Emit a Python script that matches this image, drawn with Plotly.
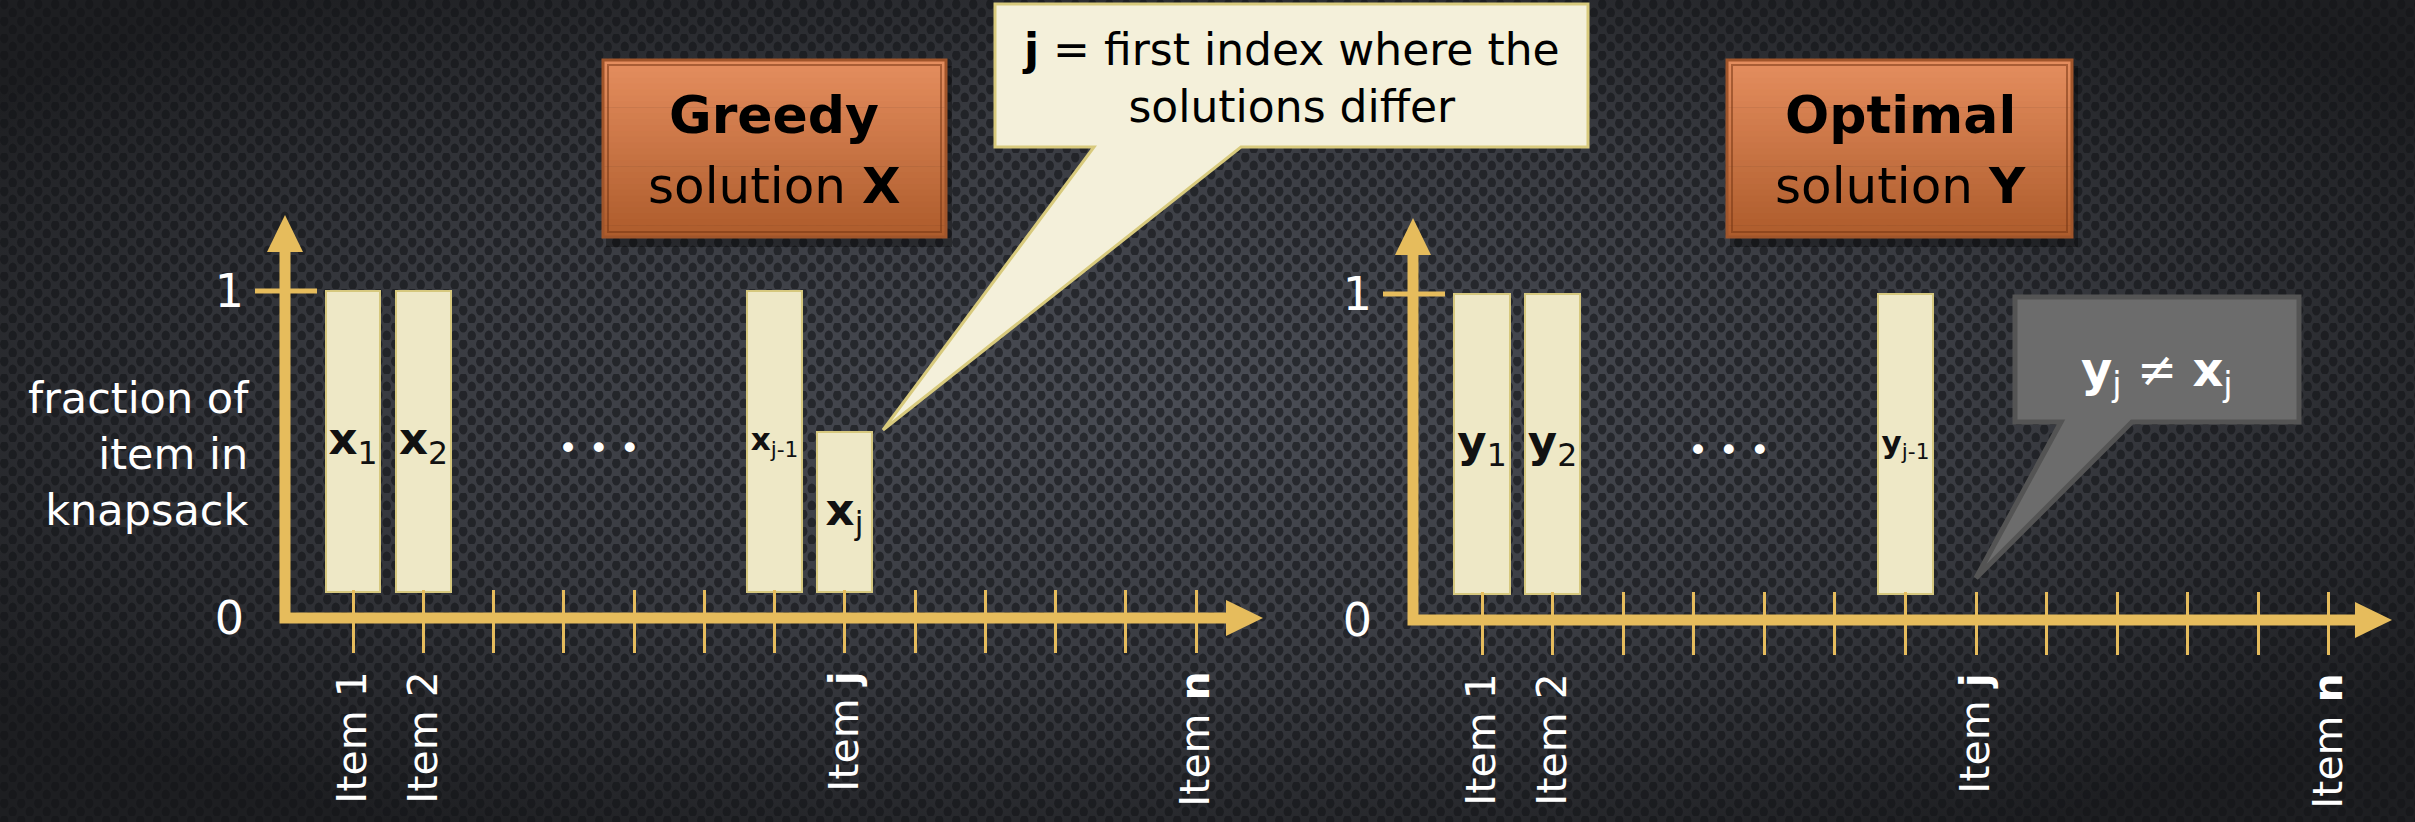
import base64
import plotly.graph_objects as go

# ---------------- data ----------------
ITEM_POSITIONS = list(range(1, 14))
LABELLED_ITEMS = [1, 2, 8, 13]
ITEM_TICK_LABELS = ["Item 1", "Item 2", "Item <b>j</b>", "Item <b>n</b>"]
Y_TICK_VALUES = [0, 1]
Y_TICK_LABELS = ["0", "1"]

GREEDY_ITEMS = [1, 2, 7, 8]
GREEDY_VALUES = [1.0, 1.0, 1.0, 0.57]
GREEDY_LABELS = ["<b>x</b><sub>1</sub>", "<b>x</b><sub>2</sub>",
                 "<b>x</b><sub>j-1</sub>", "<b>x</b><sub>j</sub>"]

OPTIMAL_ITEMS = [1, 2, 7]
OPTIMAL_VALUES = [1.0, 1.0, 1.0]
OPTIMAL_LABELS = ["<b>y</b><sub>1</sub>", "<b>y</b><sub>2</sub>",
                  "<b>y</b><sub>j-1</sub>"]

# ---------------- geometry / style ----------------
W, H = 2415, 822
FONT = "DejaVu Sans"
GOLD = "#E6BC5C"
BAR_FILL = "#EEE8C6"
BAR_LINE = "#D6C87E"
BAR_GAP = 0.08
BAR_WIDTH = 0.78

PANELS = {
    "left": dict(ax=285, item1=353, dx=70.25, base=618, one=291, top=215, tip=1263),
    "right": dict(ax=1413, item1=1482, dx=70.58, base=620, one=294, top=218, tip=2392),
}
AXW = 11
HEAD = 37
HALF = 18


def PX(x):
    return x / W


def PY(y):
    return 1 - y / H


svg = f"""<svg xmlns='http://www.w3.org/2000/svg' width='{W}' height='{H}'>
<defs>
<radialGradient id='g' cx='50%' cy='48%' r='62%'>
<stop offset='0' stop-color='#4a4d55'/><stop offset='0.55' stop-color='#393b41'/><stop offset='1' stop-color='#1d1e21'/>
</radialGradient>
<pattern id='p' width='17' height='17' patternUnits='userSpaceOnUse'>
<ellipse cx='4.25' cy='4.25' rx='4.2' ry='5.2' fill='#131417' opacity='0.6'/>
<ellipse cx='12.75' cy='12.75' rx='4.2' ry='5.2' fill='#131417' opacity='0.6'/>
</pattern>
</defs>
<rect width='100%' height='100%' fill='url(#g)'/>
<rect width='100%' height='100%' fill='url(#p)'/>
</svg>"""
bg_src = "data:image/svg+xml;base64," + base64.b64encode(svg.encode()).decode()

fig = go.Figure()

AXES = {"left": dict(x="x", xin="x2", y="y"),
        "right": dict(x="x3", xin="x4", y="y2")}
series = {"left": (GREEDY_ITEMS, GREEDY_VALUES, GREEDY_LABELS),
          "right": (OPTIMAL_ITEMS, OPTIMAL_VALUES, OPTIMAL_LABELS)}


def lname(ref):
    return ("xaxis" if ref[0] == "x" else "yaxis") + ref[1:]


layout_axes = {}
shapes = []
annotations = []

for side, g in PANELS.items():
    A = AXES[side]
    unit = g["base"] - g["one"]
    x_lo = 1 - (g["item1"] - g["ax"]) / g["dx"]
    x_hi = 1 + (g["tip"] - g["item1"]) / g["dx"]
    y_hi = (g["base"] - g["top"]) / unit
    xdom = [PX(g["ax"]), PX(g["tip"])]
    ydom = [PY(g["base"]), PY(g["top"])]

    items, vals, labels = series[side]
    sizes = [31 if "j-1" in t else 45 for t in labels]
    fig.add_trace(go.Bar(
        x=items, y=[v - BAR_GAP for v in vals], base=BAR_GAP,
        width=BAR_WIDTH, xaxis=A["x"], yaxis=A["y"],
        marker=dict(color=BAR_FILL, line=dict(color=BAR_LINE, width=2)),
        text=labels, textposition="inside", insidetextanchor="middle",
        textangle=0, constraintext="none",
        textfont=dict(family=FONT, color="#111111", size=sizes),
        showlegend=False, hoverinfo="skip",
    ))
    # empty trace so that the overlay axis (upper half of the tick marks) is drawn
    fig.add_trace(go.Scatter(x=[], y=[], xaxis=A["xin"], yaxis=A["y"],
                             mode="markers", showlegend=False, hoverinfo="skip"))

    common = dict(domain=xdom, range=[x_lo, x_hi], anchor=A["y"], showgrid=False,
                  zeroline=False, showline=False, fixedrange=True, automargin=False)
    layout_axes[lname(A["x"])] = dict(
        **common, tickmode="array", tickvals=LABELLED_ITEMS, ticktext=ITEM_TICK_LABELS,
        ticks="", tickangle=-90, ticklabelstandoff=44,
        tickfont=dict(family=FONT, size=41, color="white"),
        minor=dict(tickmode="array", tickvals=ITEM_POSITIONS, ticks="outside",
                   ticklen=34, tickwidth=3, tickcolor=GOLD, showgrid=False),
    )
    layout_axes[lname(A["xin"])] = dict(
        **common, overlaying=A["x"], tickmode="array", tickvals=ITEM_POSITIONS,
        showticklabels=False, ticks="inside", ticklen=28, tickwidth=3, tickcolor=GOLD,
    )
    layout_axes[lname(A["y"])] = dict(
        domain=ydom, range=[0, y_hi], anchor=A["x"], showgrid=False,
        zeroline=False, showline=False, tickmode="array", automargin=False,
        tickvals=Y_TICK_VALUES, ticktext=Y_TICK_LABELS, ticks="",
        ticklabelstandoff=40,
        tickfont=dict(family=FONT, size=46, color="white"), fixedrange=True,
    )

    ax, base, top, tip = g["ax"], g["base"], g["top"], g["tip"]
    path = (f"M {PX(ax)},{PY(top + HEAD)} L {PX(ax)},{PY(base)} "
            f"L {PX(tip - HEAD)},{PY(base)}")
    shapes.append(dict(type="path", xref="paper", yref="paper", path=path,
                       line=dict(color=GOLD, width=AXW), layer="above"))
    shapes.append(dict(type="path", xref="paper", yref="paper",
                       path=(f"M {PX(ax)},{PY(top)} L {PX(ax - HALF)},{PY(top + HEAD)} "
                             f"L {PX(ax + HALF)},{PY(top + HEAD)} Z"),
                       fillcolor=GOLD, line=dict(width=0), layer="above"))
    shapes.append(dict(type="path", xref="paper", yref="paper",
                       path=(f"M {PX(tip)},{PY(base)} L {PX(tip - HEAD)},{PY(base - HALF)} "
                             f"L {PX(tip - HEAD)},{PY(base + HALF)} Z"),
                       fillcolor=GOLD, line=dict(width=0), layer="above"))
    shapes.append(dict(type="line", xref="paper", yref=A["y"],
                       x0=PX(ax - 30), x1=PX(ax + 32), y0=1, y1=1,
                       line=dict(color=GOLD, width=5), layer="above"))

    annotations.append(dict(x=4.5, y=0.52, xref=A["x"], yref=A["y"], text="• • •",
                            xanchor="center", yanchor="middle",
                            showarrow=False, font=dict(family=FONT, size=34, color="white")))


def orange_box(x0, y0, x1, y1):
    top_c, bot_c = (228, 141, 94), (174, 92, 44)
    n = 30
    shapes.append(dict(type="rect", xref="paper", yref="paper",
                       x0=PX(x0 + 3), x1=PX(x1 + 6), y0=PY(y0 + 6), y1=PY(y1 + 10),
                       fillcolor="rgba(0,0,0,0.35)", line=dict(width=0), layer="below"))
    for i in range(n):
        t = i / (n - 1)
        c = tuple(round(a + (b - a) * t) for a, b in zip(top_c, bot_c))
        ya = y0 + (y1 - y0) * i / n
        yb = y0 + (y1 - y0) * (i + 1) / n + 0.6
        shapes.append(dict(type="rect", xref="paper", yref="paper",
                           x0=PX(x0), x1=PX(x1), y0=PY(ya), y1=PY(yb),
                           fillcolor=f"rgb{c}", line=dict(width=0), layer="below"))
    shapes.append(dict(type="rect", xref="paper", yref="paper",
                       x0=PX(x0), x1=PX(x1), y0=PY(y0), y1=PY(y1),
                       fillcolor="rgba(0,0,0,0)", line=dict(color="#A0552B", width=3),
                       layer="below"))
    shapes.append(dict(type="rect", xref="paper", yref="paper",
                       x0=PX(x0 + 5), x1=PX(x1 - 5), y0=PY(y0 + 5), y1=PY(y1 - 5),
                       fillcolor="rgba(0,0,0,0)", line=dict(color="rgba(120,55,20,0.55)", width=2),
                       layer="below"))


orange_box(603, 60, 946, 237)
orange_box(1727, 60, 2072, 237)


def txt(x, y, text, size, color="black", **kw):
    d = dict(x=PX(x), y=PY(y), xref="paper", yref="paper", text=text,
             xanchor="center", yanchor="middle", showarrow=False,
             font=dict(family=FONT, size=size, color=color))
    d.update(kw)
    annotations.append(d)


txt(774, 115, "<b>Greedy</b>", 52)
txt(774, 186, "solution <b>X</b>", 50)
txt(1900, 115, "<b>Optimal</b>", 52)
txt(1900, 186, "solution <b>Y</b>", 50)

callout_path = "M {a},{b} L {c},{b} L {c},{d} L {e},{d} L {f},{g} L {h},{d} L {a},{d} Z"
shapes.append(dict(type="path", xref="paper", yref="paper",
                   path=callout_path.format(a=PX(995), b=PY(4), c=PX(1588), d=PY(147),
                                            e=PX(1241), f=PX(883), g=PY(430), h=PX(1094)),
                   fillcolor="#F4F0DA", line=dict(color="#D8CA7C", width=3), layer="above"))
txt(1291, 78, "<b>j</b> = first index where the<br>solutions differ", 44, align="center")

shapes.append(dict(type="path", xref="paper", yref="paper",
                   path=callout_path.format(a=PX(2015), b=PY(297), c=PX(2299), d=PY(422),
                                            e=PX(2132), f=PX(1976), g=PY(578), h=PX(2061)),
                   fillcolor="#6C6C6C", line=dict(color="#545454", width=5), layer="above"))
txt(2157, 372, "<b>y</b><sub>j</sub> ≠ <b>x</b><sub>j</sub>", 48, color="white")

txt(251, 454, "fraction of<br>item in<br>knapsack", 43, color="white",
    xanchor="right", align="right")

fig.update_layout(
    width=W, height=H, autosize=False,
    margin=dict(l=0, r=0, t=0, b=0, pad=0),
    paper_bgcolor="#2e3035", plot_bgcolor="rgba(0,0,0,0)",
    images=[dict(source=bg_src, xref="paper", yref="paper", x=0, y=1,
                 sizex=1, sizey=1, xanchor="left", yanchor="top",
                 sizing="stretch", layer="below")],
    shapes=shapes, annotations=annotations, showlegend=False,
    bargap=0, **layout_axes,
)

fig.write_html("out.html", config={"displayModeBar": False})
